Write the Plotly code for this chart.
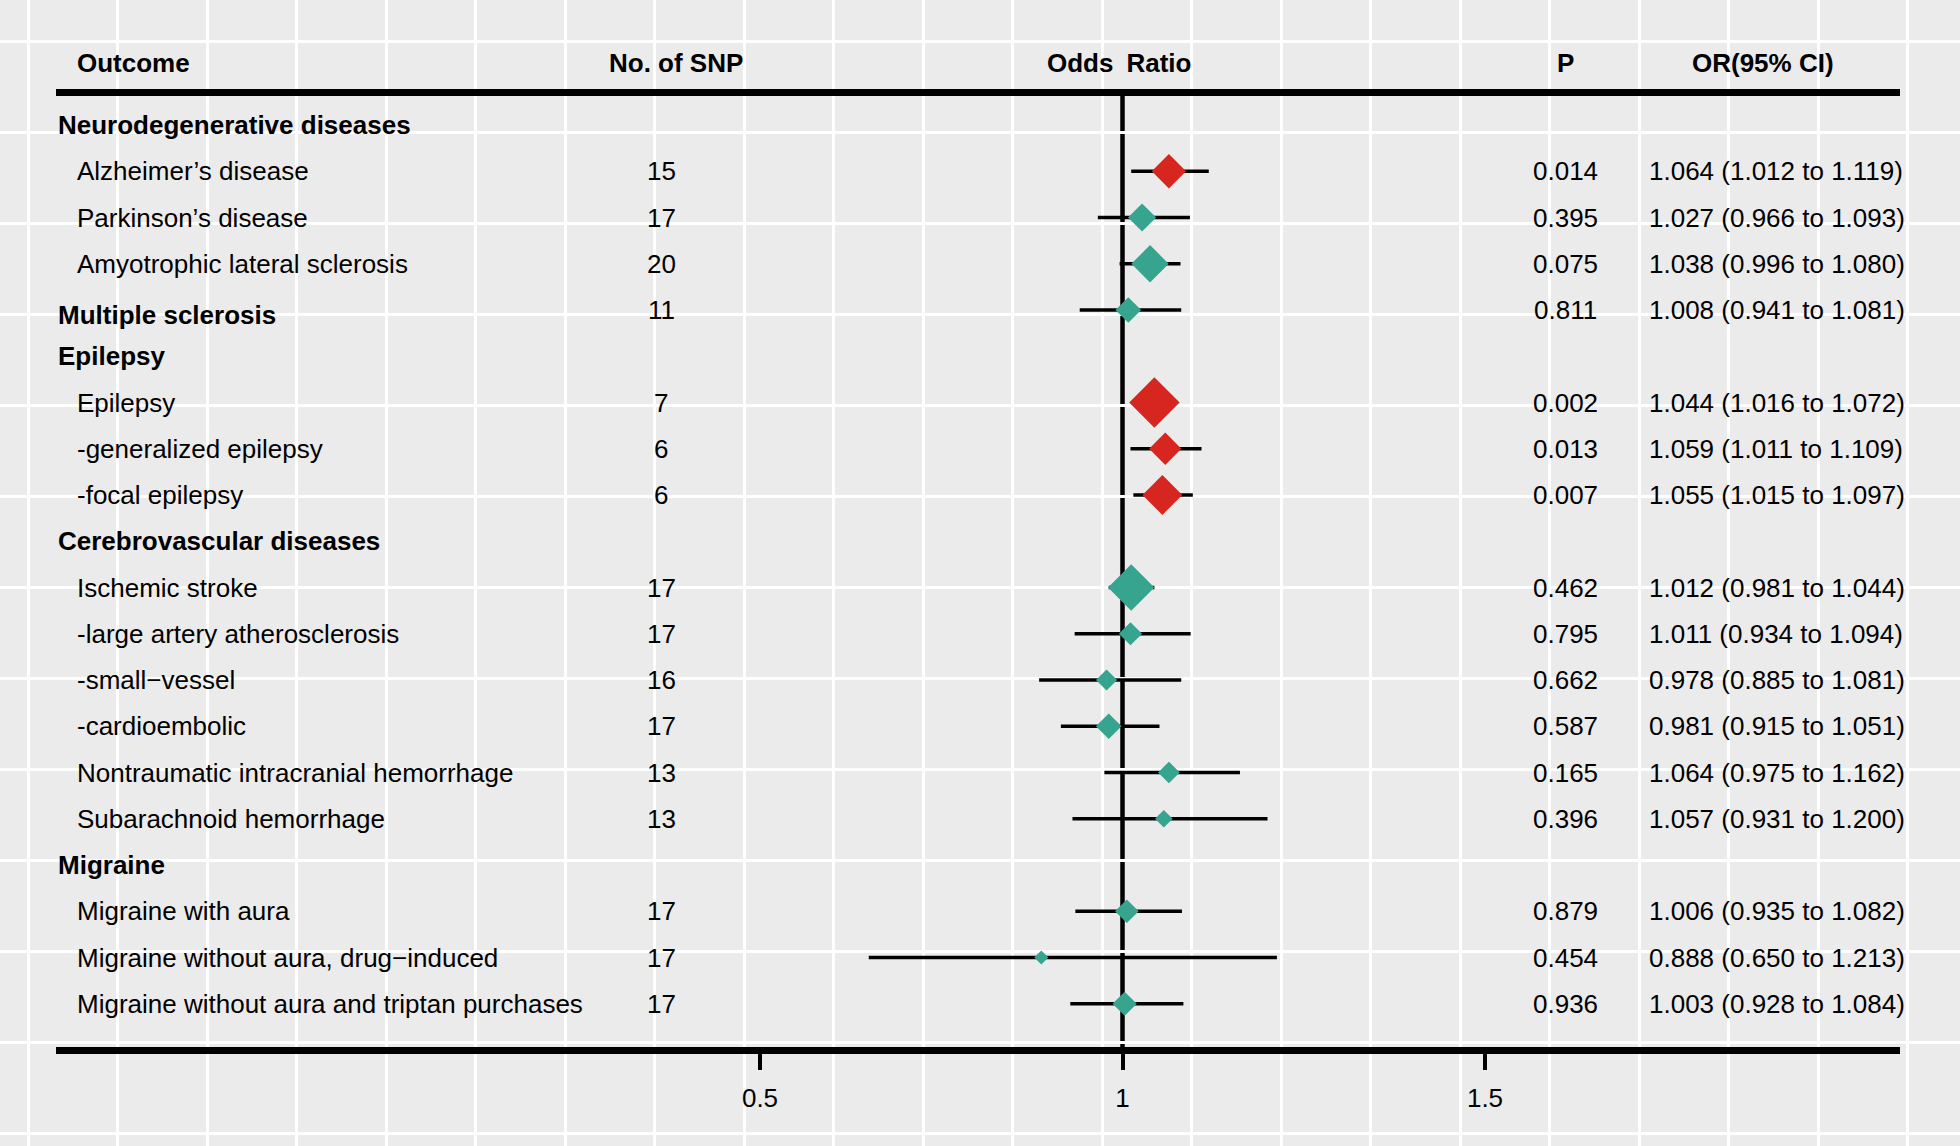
import plotly.graph_objects as go

# ---------------- data ----------------
outcomes = [
    "Neurodegenerative diseases",
    "Alzheimer\u2019s disease",
    "Parkinson\u2019s disease",
    "Amyotrophic lateral sclerosis",
    "Multiple sclerosis",
    "Epilepsy",
    "Epilepsy",
    "-generalized epilepsy",
    "-focal epilepsy",
    "Cerebrovascular diseases",
    "Ischemic stroke",
    "-large artery atherosclerosis",
    "-small\u2212vessel",
    "-cardioembolic",
    "Nontraumatic intracranial hemorrhage",
    "Subarachnoid hemorrhage",
    "Migraine",
    "Migraine with aura",
    "Migraine without aura, drug\u2212induced",
    "Migraine without aura and triptan purchases",
]
bold_label = [True, False, False, False, True, True, False, False, False, True,
              False, False, False, False, False, False, True, False, False, False]
n_snp = [None, 15, 17, 20, 11, None, 7, 6, 6, None, 17, 17, 16, 17, 13, 13, None, 17, 17, 17]
odds = [None, 1.064, 1.027, 1.038, 1.008, None, 1.044, 1.059, 1.055, None,
        1.012, 1.011, 0.978, 0.981, 1.064, 1.057, None, 1.006, 0.888, 1.003]
ci_low = [None, 1.012, 0.966, 0.996, 0.941, None, 1.016, 1.011, 1.015, None,
          0.981, 0.934, 0.885, 0.915, 0.975, 0.931, None, 0.935, 0.650, 0.928]
ci_high = [None, 1.119, 1.093, 1.080, 1.081, None, 1.072, 1.109, 1.097, None,
           1.044, 1.094, 1.081, 1.051, 1.162, 1.200, None, 1.082, 1.213, 1.084]
p_values = [None, 0.014, 0.395, 0.075, 0.811, None, 0.002, 0.013, 0.007, None,
            0.462, 0.795, 0.662, 0.587, 0.165, 0.396, None, 0.879, 0.454, 0.936]
# relative box weight (largest = 1)
box_weight = [None, 0.68, 0.56, 0.74, 0.51, None, 1.00, 0.64, 0.79, None,
              0.92, 0.46, 0.42, 0.51, 0.43, 0.35, None, 0.47, 0.28, 0.48]
x_ticks = [0.5, 1, 1.5]
x_tick_text = ["0.5", "1", "1.5"]
col_headers = ["Outcome", "No. of SNP", "Odds\u2002Ratio", "P", "OR(95% CI)"]

# ---------------- layout constants ----------------
W, H = 1960, 1146
ROW0_PX, ROW_STEP = 125.0, 46.25
TOP_PX, BOT_PX = 92.5, 1050.0
LEFT_PX, RIGHT_PX = 56.0, 1900.0
OR1_PX, PX_PER_UNIT = 1122.5, 725.0
RULE_W = 6.5
FONT = "Liberation Sans, Arial, Helvetica, sans-serif"
FS = 26
RED = "#D7261F"
TEAL = "#36A48F"
BG = "#EBEBEB"
MAX_BOX = 38.8

# plot area so that the (outward drawn) axis lines are centred on TOP_PX / BOT_PX
area_top = TOP_PX + RULE_W / 2
area_bot = BOT_PX - RULE_W / 2

rows = list(range(len(outcomes)))
x_range = [1 - (OR1_PX - LEFT_PX) / PX_PER_UNIT, 1 + (RIGHT_PX - OR1_PX) / PX_PER_UNIT]
y_range = [(area_bot - ROW0_PX) / ROW_STEP, (area_top - ROW0_PX) / ROW_STEP]

fig = go.Figure()

# invisible trace on background axes so they render
fig.add_trace(go.Scatter(x=[0], y=[0], mode="markers", marker=dict(opacity=0),
                         hoverinfo="skip", showlegend=False, xaxis="x", yaxis="y"))

# CI lines
ci_x, ci_y = [], []
for r, lo, hi in zip(rows, ci_low, ci_high):
    if lo is None:
        continue
    ci_x += [lo, hi, None]
    ci_y += [r, r, None]
fig.add_trace(go.Scatter(x=ci_x, y=ci_y, mode="lines", line=dict(color="black", width=3.5),
                         hoverinfo="skip", showlegend=False, xaxis="x2", yaxis="y2"))

# diamonds
pts = [(r, o, p, w) for r, o, p, w in zip(rows, odds, p_values, box_weight) if o is not None]
fig.add_trace(go.Scatter(
    x=[o for _, o, _, _ in pts], y=[r for r, _, _, _ in pts], mode="markers",
    marker=dict(symbol="diamond", size=[w * MAX_BOX for *_, w in pts], opacity=1,
                color=[RED if p < 0.05 else TEAL for _, _, p, _ in pts], line=dict(width=0)),
    showlegend=False, xaxis="x2", yaxis="y2"))

# reference line at OR = 1
fig.add_shape(type="line", xref="x2", yref="paper", x0=1, x1=1,
              y0=1 - BOT_PX / H, y1=1 - TOP_PX / H,
              line=dict(color="black", width=4.5), layer="below")

ann = []
def txt(text, xpx, y, xanchor="left", bold=False, yref="y2", yshift=0):
    ann.append(dict(text=f"<b>{text}</b>" if bold else text, x=xpx / W, xref="paper",
                    y=y, yref=yref, xanchor=xanchor, yanchor="middle", showarrow=False,
                    yshift=yshift, font=dict(family=FONT, size=FS, color="black")))

# headers
hy = 1 - 63 / H
txt(col_headers[0], 75, hy, "left", True, "paper")
txt(col_headers[1], 607, hy, "left", True, "paper")
txt(col_headers[2], 1119, hy, "center", True, "paper")
txt(col_headers[3], 1565, hy, "center", True, "paper")
txt(col_headers[4], 1763, hy, "center", True, "paper")

for r, lab, b, n, o, lo, hi, p in zip(rows, outcomes, bold_label, n_snp, odds, ci_low, ci_high, p_values):
    if b:
        shift = -5 if n is not None else 0
        txt(lab, 56, r, "left", True, yshift=shift)
    else:
        txt(lab, 75, r, "left")
    if n is not None:
        txt(str(n), 661, r, "center")
    if p is not None:
        txt(f"{p:.3f}", 1565, r, "center")
        txt(f"{o:.3f} ({lo:.3f} to {hi:.3f})", 1647, r, "left")

fig.update_layout(
    width=W, height=H, margin=dict(l=0, r=0, t=0, b=0, pad=0),
    paper_bgcolor=BG, plot_bgcolor="rgba(0,0,0,0)",
    annotations=ann,
    xaxis=dict(domain=[0, 1], range=[0, W], showgrid=True, gridcolor="white", gridwidth=2.5,
               tick0=28, dtick=89.5, showticklabels=False, zeroline=False, showline=False,
               ticks="", fixedrange=True),
    yaxis=dict(domain=[0, 1], range=[H, 0], showgrid=True, gridcolor="white", gridwidth=2.5,
               tick0=41.7, dtick=91, showticklabels=False, zeroline=False, showline=False,
               ticks="", fixedrange=True),
    xaxis2=dict(domain=[LEFT_PX / W, RIGHT_PX / W], range=x_range, anchor="y2",
                showgrid=False, zeroline=False, showline=True, linecolor="black", linewidth=RULE_W,
                mirror=True, ticks="outside", ticklen=16, tickwidth=4, tickcolor="black",
                tickvals=x_ticks, ticktext=x_tick_text, ticklabelstandoff=6,
                tickfont=dict(family=FONT, size=FS, color="black"), fixedrange=True),
    yaxis2=dict(domain=[1 - area_bot / H, 1 - area_top / H], range=y_range, anchor="x2",
                showgrid=False, zeroline=False, showline=False, showticklabels=False,
                ticks="", fixedrange=True),
)

fig.write_html("out.html", config={"displayModeBar": False},
               post_script="document.body.style.margin='0';document.body.style.overflow='hidden';")
